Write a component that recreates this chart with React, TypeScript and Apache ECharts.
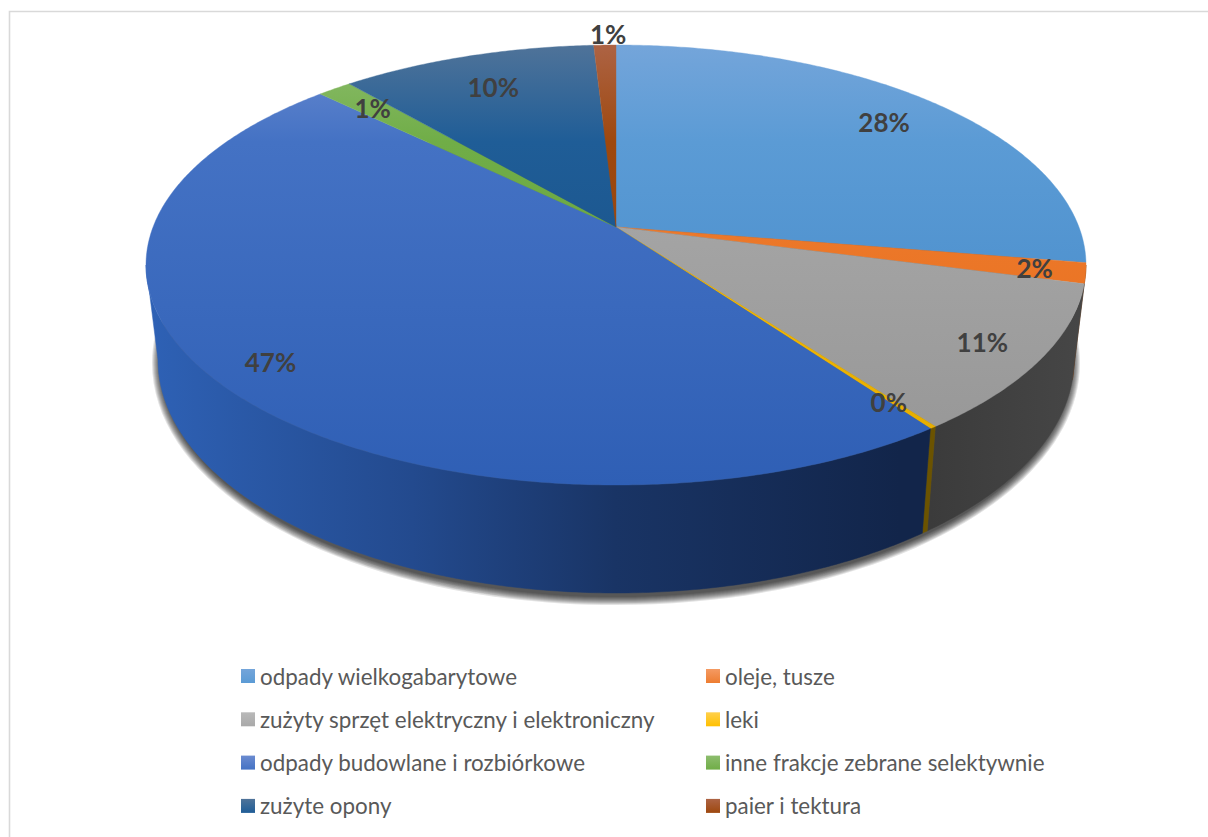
import React, { useEffect, useRef } from "react";
import * as echarts from "echarts";

const categories = [
  "odpady wielkogabarytowe",
  "oleje, tusze",
  "zużyty sprzęt elektryczny i elektroniczny",
  "leki",
  "odpady budowlane i rozbiórkowe",
  "inne frakcje zebrane selektywnie",
  "zużyte opony",
  "paier i tektura",
];
const shares = [27.6, 1.5, 10.78, 0.2, 47.22, 1.4, 10.4, 0.9];

// top-face colours: [rim, mid, near]
const topColors = [
  ["#74a5da", "#5b9bd5", "#3f86c6"],
  ["#f49a63", "#ed7d31", "#e86a15"],
  ["#b9b9b9", "#a9a9a9", "#959595"],
  ["#ffd04d", "#ffc000", "#e3ab00"],
  ["#6b8bd0", "#4472c4", "#2f5fb5"],
  ["#8dbd6e", "#70ad47", "#64a03c"],
  ["#4f7399", "#1f5d97", "#144a7e"],
  ["#ad6344", "#9e480e", "#8f400b"],
];
const wallColors = [
  ["#2b5c8c", "#2b5c8c"],
  ["#7a3d10", "#7a3d10"],
  ["#3b3b3b", "#464646"],
  ["#6b5300", "#6b5300"],
  ["#2e61b5", "#12254a"],
  ["#38562a", "#38562a"],
  ["#0f3050", "#0f3050"],
  ["#4f2507", "#4f2507"],
];
const labelRadii = [0.83, 0.895, 0.875, 0.875, 0.884, 0.85, 0.8, 1.07];
const labelNudgeX = [0, 0, 0, 1, -1, 0, 0, 4];
const labelNudgeY = [0, 0, 0, 3, -2, 0, 0, 0];

const CX = 616;
const TOP = { cy: 265, rx: 470, ry: 220 };
const BOTTOM = { cy: 360, rx: 458, ry: 233 };
const TILT = 0.173; // how far the apex sits behind the ellipse centre
const STRETCH = Math.sqrt(1 - TILT * TILT);
const DEG = Math.PI / 180;
const FONT = "Lato, 'Noto Sans', sans-serif";
const SHADOW_LAYERS = 9;

// disc point (clockwise degrees from north) -> normalised ellipse coordinates
function project(deg: number, r = 1) {
  const u = r * Math.sin(deg * DEG);
  const v = r * Math.cos(deg * DEG);
  const d = 1 + TILT * v;
  return { u: (u * STRETCH) / d, v: (v + TILT) / d };
}
const toScreen = (p: { u: number; v: number }, e: { cy: number; rx: number; ry: number }) => [
  CX + e.rx * p.u,
  e.cy - e.ry * p.v,
];

function arc(a: number, b: number, e: typeof TOP) {
  const n = Math.max(2, Math.ceil((b - a) * 2));
  const pts: number[][] = [];
  for (let i = 0; i <= n; i++) pts.push(toScreen(project(a + ((b - a) * i) / n), e));
  return pts;
}

const total = shares.reduce((s, x) => s + x, 0);
const starts: number[] = [];
shares.reduce((acc, x) => {
  starts.push((acc / total) * 360);
  return acc + x;
}, 0);
const RIM = Math.acos(-TILT) / DEG; // where the top ellipse is widest

const sliceSeries = categories.map((name, i) => {
  const c = topColors[i];
  const fill = new echarts.graphic.LinearGradient(
    0, 45, 0, 485,
    [
      { offset: 0, color: c[0] },
      { offset: 0.22, color: c[1] },
      { offset: 1, color: c[2] },
    ],
    true,
  );
  const w = wallColors[i];
  const wallFill = new echarts.graphic.LinearGradient(
    i === 2 ? 930 : 150, 0, i === 4 ? 900 : 1080, 0,
    i === 4
      ? [
          { offset: 0, color: w[0] },
          { offset: 0.35, color: "#234a8e" },
          { offset: 0.62, color: "#193465" },
          { offset: 1, color: w[1] },
        ]
      : [
          { offset: 0, color: w[0] },
          { offset: 1, color: w[1] },
        ],
    true,
  );
  return {
    type: "custom",
    name,
    coordinateSystem: "none",
    silent: true,
    z: 3,
    itemStyle: {
      color: new echarts.graphic.LinearGradient(0, 0, 0, 1, [
        { offset: 0, color: c[0] },
        { offset: 1, color: c[1] },
      ]),
    },
    data: [{ value: [starts[i], starts[i] + (shares[i] / total) * 360, shares[i]] }],
    renderItem: (_p: any, api: any) => {
      const a = api.value(0);
      const b = api.value(1);
      const val = api.value(2);
      const apex = toScreen(project(0, 0), TOP);
      const children: any[] = [];
      const wa = Math.max(a, RIM);
      const wb = Math.min(b, 360 - RIM);
      if (wb > wa) {
        children.push({
          type: "polygon",
          shape: { points: [...arc(wa, wb, TOP), ...arc(wa, wb, BOTTOM).reverse()] },
          style: { fill: wallFill, stroke: wallFill, lineWidth: 0.5 },
        });
      }
      children.push({
        type: "polygon",
        shape: { points: [apex, ...arc(a, b, TOP)] },
        style: { fill, stroke: fill, lineWidth: 0.4 },
      });
      const [lx, ly] = toScreen(project((a + b) / 2, labelRadii[i]), TOP);
      children.push({
        type: "text",
        x: lx + labelNudgeX[i],
        y: ly + labelNudgeY[i],
        z2: 100,
        style: {
          text: `${Math.round(val)}%`,
          fontFamily: FONT,
          fontSize: 26,
          fontWeight: "bold",
          fill: "#404040",
          align: "center",
          verticalAlign: "middle",
        },
      });
      return { type: "group", children };
    },
  };
});

// soft contact shadow: stacked translucent ellipses that fade outward
const shadowSeries = {
  type: "custom",
  name: "cień",
  coordinateSystem: "none",
  silent: true,
  z: 1,
  data: [{ value: [0] }],
  renderItem: () => ({
    type: "group",
    children: Array.from({ length: SHADOW_LAYERS }, (_, k) => ({
      type: "ellipse",
      shape: {
        cx: CX,
        cy: BOTTOM.cy + 3,
        rx: BOTTOM.rx - 2 + k,
        ry: BOTTOM.ry + 1 + k,
      },
      style: { fill: "#000000", opacity: 0.11 },
    })),
  }),
};

const legendBase = {
  orient: "vertical",
  top: 660,
  itemWidth: 14,
  itemHeight: 14,
  itemGap: 21.3,
  icon: "rect",
  selectedMode: false,
  textStyle: { fontFamily: FONT, fontSize: 22.4, color: "#595959" },
};

export default function App() {
  const ref = useRef<HTMLDivElement>(null);
  useEffect(() => {
    const chart = echarts.init(ref.current!, null, { renderer: "svg" });
    chart.setOption({
      animation: false,
      backgroundColor: "#ffffff",
      graphic: [
        {
          type: "rect",
          z: 0,
          shape: { x: 9.5, y: 11.5, width: 1400, height: 1000 },
          style: { fill: "none", stroke: "#d9d9d9", lineWidth: 1.6 },
          silent: true,
        },
      ],
      legend: [
        { ...legendBase, left: 236, data: categories.filter((_, i) => i % 2 === 0) },
        { ...legendBase, left: 701, data: categories.filter((_, i) => i % 2 === 1) },
      ],
      series: [shadowSeries, ...sliceSeries],
    });
    return () => chart.dispose();
  }, []);
  return <div ref={ref} style={{ position: "absolute", left: 0, top: 0, width: 1208, height: 837 }} />;
}
